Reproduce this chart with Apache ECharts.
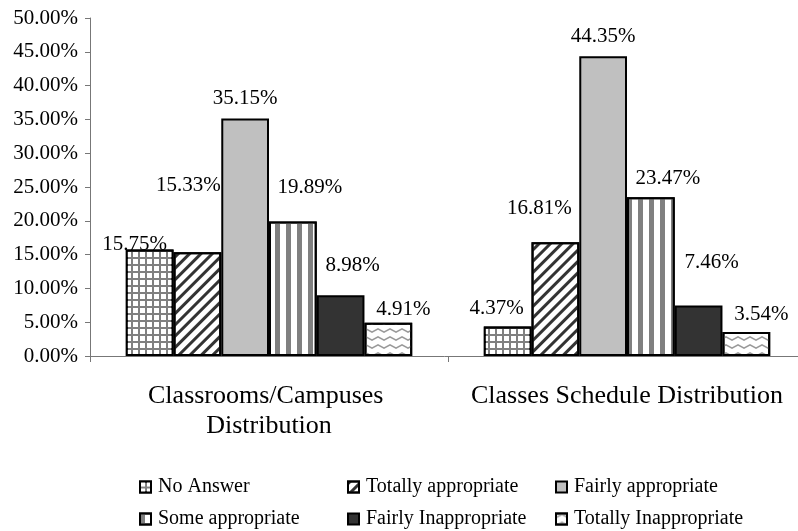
<!DOCTYPE html>
<html>
<head>
<meta charset="utf-8">
<script src="https://cdn.jsdelivr.net/npm/echarts@6/dist/echarts.min.js"></script>
<style>
  html, body { margin: 0; padding: 0; background: #fff; }
  #chart { width: 798px; height: 531px; }
</style>
</head>
<body>
<div id="chart"></div>
<script>
// ---- data ----
const categories = ['Classrooms/Campuses Distribution', 'Classes Schedule Distribution'];
const seriesNames = ['No Answer', 'Totally appropriate', 'Fairly appropriate', 'Some appropriate', 'Fairly Inappropriate', 'Totally Inappropriate'];
const noAnswer = [15.75, 4.37];
const totallyAppropriate = [15.33, 16.81];
const fairlyAppropriate = [35.15, 44.35];
const someAppropriate = [19.89, 23.47];
const fairlyInappropriate = [8.98, 7.46];
const totallyInappropriate = [4.91, 3.54];
const yTicks = [0, 5, 10, 15, 20, 25, 30, 35, 40, 45, 50];

// ---- layout / style (not data) ----
const values = [noAnswer, totallyAppropriate, fairlyAppropriate, someAppropriate, fairlyInappropriate, totallyInappropriate];
const labelOffsets = [
  [[-15, 5], [-11, -8]],
  [[-9, -57], [-16, -24]],
  [[0, -10], [0, -10]],
  [[17, -24], [17, -9]],
  [[12, -20], [13, -33]],
  [[15, -3], [15, -8]]
];
const FONT = 'Liberation Serif';
const styles = [
  { color: '#808080', decal: { symbol: 'rect', color: '#ffffff', dashArrayX: [5, 2], dashArrayY: [5, 2], symbolSize: 1, rotation: 0 } },
  { color: '#ffffff', decal: { symbol: 'rect', color: '#333333', dashArrayX: [1, 0], dashArrayY: [3, 5], symbolSize: 1, rotation: -Math.PI / 4 } },
  { color: '#c0c0c0', decal: 'none' },
  { color: '#ffffff', decal: { symbol: 'rect', color: '#808080', dashArrayX: [5, 6], dashArrayY: [1, 0], symbolSize: 1, rotation: 0 } },
  { color: '#333333', decal: 'none' },
  { color: '#ffffff', decal: { symbol: 'path://M0,4 L6,0 L12,4 L12,6 L6,2 L0,6 Z', symbolKeepAspect: false, color: '#999999', dashArrayX: [12, 0], dashArrayY: [5, 3], symbolSize: 1, rotation: 0 } }
];

const series = seriesNames.map((name, i) => {
  const st = styles[i];
  const itemStyle = { color: st.color, borderColor: '#000', borderWidth: 2 };
  if (st.decal !== 'none') itemStyle.decal = st.decal;
  return {
    name: name,
    type: 'bar',
    barGap: '0%',
    barCategoryGap: '20%',
    itemStyle: itemStyle,
    emphasis: { disabled: true },
    label: {
      show: true,
      position: 'top',
      distance: 0,
      fontFamily: FONT,
      fontSize: 21,
      lineHeight: 20,
      color: '#000',
      formatter: p => p.value.toFixed(2) + '%'
    },
    data: values[i].map((v, j) => ({ value: v, label: { offset: labelOffsets[i][j] } }))
  };
});

function makeLegend(left, names) {
  return {
    orient: 'vertical',
    left: left,
    top: 477,
    padding: 0,
    itemGap: 12,
    itemWidth: 11,
    itemHeight: 11,
    icon: 'rect',
    selectedMode: false,
    itemStyle: { borderColor: '#000', borderWidth: 2 },
    textStyle: { fontFamily: FONT, fontSize: 20, lineHeight: 20, color: '#000', padding: [0, 0, 0, 2] },
    data: names
  };
}

const chart = echarts.init(document.getElementById('chart'), null, { renderer: 'canvas' });
chart.setOption({
  animation: false,
  backgroundColor: '#fff',
  aria: { enabled: false },
  grid: { left: 90, right: -8, top: 18, bottom: 175, containLabel: false, outerBoundsMode: 'none' },
  legend: [
    makeLegend(139, [seriesNames[0], seriesNames[3]]),
    makeLegend(347, [seriesNames[1], seriesNames[4]]),
    makeLegend(555, [seriesNames[2], seriesNames[5]])
  ],
  xAxis: {
    type: 'category',
    data: categories,
    axisLine: { lineStyle: { color: '#777', width: 1 } },
    axisTick: { show: true, length: 6, lineStyle: { color: '#777' } },
    axisLabel: {
      interval: 0,
      fontFamily: FONT,
      fontSize: 26,
      lineHeight: 30,
      color: '#000',
      margin: 25,
      width: 350,
      overflow: 'break'
    },
    splitLine: { show: false }
  },
  yAxis: {
    type: 'value',
    min: yTicks[0],
    max: yTicks[yTicks.length - 1],
    interval: yTicks[1] - yTicks[0],
    axisLine: { show: true, lineStyle: { color: '#777', width: 1 } },
    axisTick: { show: true, length: 5, lineStyle: { color: '#777' } },
    axisLabel: {
      fontFamily: FONT,
      fontSize: 21,
      color: '#000',
      margin: 12,
      formatter: v => v.toFixed(2) + '%'
    },
    splitLine: { show: false }
  },
  series: series
});
</script>
</body>
</html>
